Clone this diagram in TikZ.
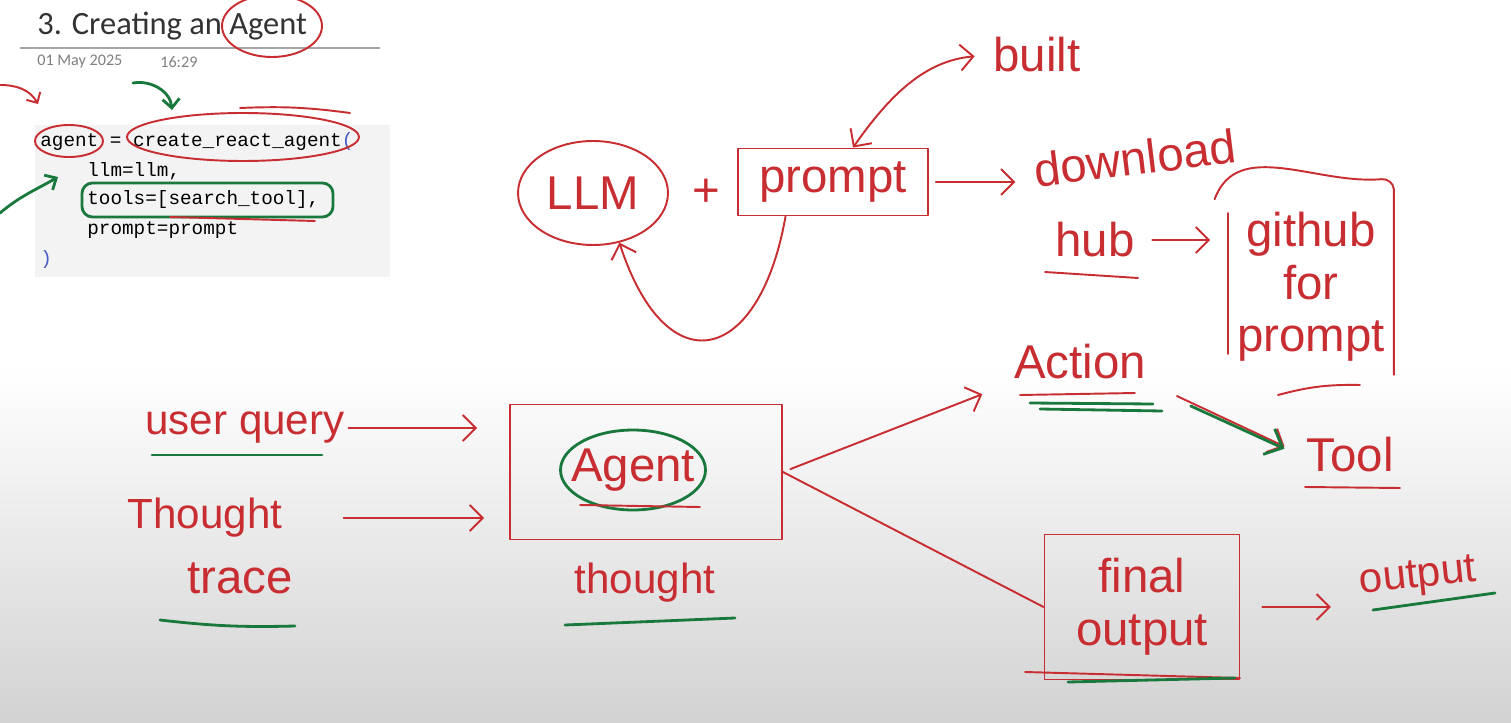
\documentclass[tikz,border=0pt]{standalone}
\usepackage{fontspec}
\setmainfont{Carlito}
\setmonofont{Liberation Mono}
\newfontfamily\handfont{Liberation Sans}
\usepackage{tikz}
\usetikzlibrary{positioning, arrows.meta, shapes.geometric, calc}

\definecolor{inkred}{RGB}{200,45,50}
\definecolor{inkgreen}{RGB}{25,120,60}
\definecolor{codebg}{RGB}{243,243,243}
\definecolor{codeblue}{RGB}{70,90,200}
\definecolor{paper}{RGB}{210,210,210}

\begin{document}
\begin{tikzpicture}[x=0.02cm, y=-0.02cm,
  hand/.style={font=\handfont\fontsize{27}{30}\selectfont, text=inkred, inner sep=2pt},
  handsm/.style={hand, font=\handfont\fontsize{24}{27}\selectfont},
  pen/.style={draw=inkred, line width=1.1pt, line cap=round, line join=round},
  greenpen/.style={draw=inkgreen, line width=1.6pt, line cap=round},
  arrow/.style={pen, -{Straight Barb[length=2.6mm, width=5.2mm]}},
  greenarrow/.style={greenpen, -{Straight Barb[length=3mm, width=5.6mm]}},
  box/.style={pen, rectangle, align=center},
  code/.style={font=\ttfamily\fontsize{11}{13}\selectfont, anchor=west, inner sep=0pt},
  meta/.style={font=\fontsize{9.2}{11}\selectfont, text=black!50, anchor=west, inner sep=0pt},
]
  \useasboundingbox (0,0) rectangle (1511,723);
  \fill[white] (0,0) rectangle (1511,723);
  \shade[top color=white, bottom color=paper] (0,370) rectangle (1511,723);

  % page header
  \node[font=\fontsize{18.5}{21}\selectfont, text=black!80, anchor=west, inner sep=0pt] (title) at (37,26) {3. Creating an Agent};
  \draw[black!35, line width=0.8pt] (20,48) -- (380,48);
  \node[meta] (date) at (37,62) {01 May 2025};
  \node[meta] (time) at (160,62) {16:29};

  % code cell
  \fill[codebg] (35,125) rectangle (390,277);
  \node[code] (line1) at (40,142) {agent = create\_react\_agent{\color{codeblue}(}};
  \node[code] (line2) at (87,171) {llm=llm,};
  \node[code] (line3) at (87,200) {tools=[search\_tool],};
  \node[code] (line4) at (87,230) {prompt=prompt};
  \node[code, text=codeblue] (line5) at (40,260) {)};

  \draw[pen] (272,26) ellipse [x radius=1cm, y radius=0.62cm];
  \draw[pen] (69,141) ellipse [x radius=0.68cm, y radius=0.32cm];
  \draw[pen] (243,137) ellipse [x radius=2.32cm, y radius=0.48cm];
  \draw[pen] (240,108) to[bend left=5] (350,113);
  \draw[greenpen, rounded corners=6pt] (82,183) rectangle (333,217);
  \draw[pen] (170,217) -- (315,221);
  \coordinate (redtail) at (0,85);
  \coordinate (greentail) at (133,83);
  \coordinate (lefttail) at (0,213);
  \draw[pen, -{Straight Barb[length=1.6mm, width=3.2mm]}] (redtail) to[out=0, in=120] (38,104);
  \draw[greenpen, -{Straight Barb[length=1.8mm, width=3.4mm]}] (greentail) to[out=10, in=95] (172,110);
  \draw[greenpen, -{Straight Barb[length=1.8mm, width=3.4mm]}] (lefttail) to[out=40, in=210] (58,177);

  % llm + prompt
  \node[pen, hand, ellipse, minimum width=3cm, minimum height=2.08cm] (llm) at (593,193) {LLM};
  \node[hand, right=0.4cm of llm] (plus) {+};
  \node[box, hand, minimum width=3.8cm, minimum height=1.34cm] (prompt) at (833,182) {prompt};
  \node[hand] (built) at (1037,55) {built};
  \node[hand, rotate=7] (download) at (1135,158) {download};
  \node[hand] (hub) at (1095,240) {hub};
  \node[hand, align=center, minimum width=3.3cm, minimum height=3.5cm] (github) at (1311,287) {github\\for\\prompt};

  \draw[arrow, shorten <=0.14cm, shorten >=0.3cm] (prompt.east) -- (prompt.east -| download.west);
  \draw[arrow, {Straight Barb[length=2.6mm, width=5.2mm]}-{Straight Barb[length=2.6mm, width=5.2mm]}, shorten >=0.3cm]
    ([xshift=0.4cm]prompt.north) to[out=55, in=185] (built.west);
  \draw[arrow] ([xshift=-0.95cm]prompt.south) to[out=-100, in=-72, looseness=2.3] (llm.-62);
  \draw[arrow, shorten <=0.28cm, shorten >=0.36cm] (hub.east) -- (hub.east -| github.west);
  \draw[pen] ([xshift=-0.27cm]github.north west) to[out=70, in=185] ([xshift=-0.25cm, yshift=0.4cm]github.north east)
    to[out=5, in=95] ([yshift=0.2cm]github.north east) -- (github.south east);
  \draw[pen] ([yshift=-0.28cm]github.north west) -- ([yshift=0.42cm]github.south west);
  \draw[pen] (1045,272) -- (1138,278);
  \draw[pen] (1278,395) to[bend left=8] (1360,385);

  % agent
  \node[box, minimum width=5.44cm, minimum height=2.7cm] (agentbox) at (646,472) {};
  \node[hand] (agent) at (633,470) {Agent};
  \draw[greenpen] (agent) ellipse [x radius=1.45cm, y radius=0.8cm];
  \draw[pen] (580,505) -- (700,507);
  \node[handsm] (query) at (245,428) {user query};
  \node[handsm] (thought) at (205,518) {Thought};
  \node[hand] (trace) at (240,578) {trace};
  \node[handsm] (thoughtlbl) at (645,583) {thought};
  \draw[greenpen] (152,455) -- (322,455);
  \draw[greenpen] (160,620) to[bend right=4] (295,626);
  \draw[greenpen] (565,625) -- (735,618);

  \draw[arrow, shorten >=0.64cm] (query.east) -- (query.east -| agentbox.west);
  \draw[arrow, shorten <=1.15cm, shorten >=0.5cm] (thought.east) -- (thought.east -| agentbox.west);

  % action / final output
  \node[hand] (action) at (1080,362) {Action};
  \node[hand] (tool) at (1350,455) {Tool};
  \node[box, hand, minimum width=3.9cm, minimum height=2.9cm] (final) at (1142,607) {final\\output};
  \node[handsm, rotate=6] (output) at (1418,578) {output};

  \draw[arrow, shorten <=0.16cm, shorten >=0.6cm] (agentbox.east) -- (action.south west);
  \draw[pen] (agentbox.east) -- (final.west);
  \draw[arrow, shorten <=0.6cm, shorten >=0.4cm] (action.south east) -- (tool.west);
  \draw[greenarrow, shorten <=0.9cm, shorten >=0.4cm] ([yshift=-0.08cm]action.south east) -- ([yshift=-0.04cm]tool.west);
  \draw[arrow, shorten <=0.44cm, shorten >=0.5cm] (final.east) -- (final.east -| output.west);

  \draw[pen] (1020,395) -- (1135,393);
  \draw[greenpen] (1030,403) -- (1153,404);
  \draw[greenpen] (1040,409) -- (1162,411);
  \draw[pen] (1305,487) -- (1400,488);
  \draw[pen] (1025,672) -- (1240,678);
  \draw[greenpen] (1068,682) -- (1235,678);
  \draw[greenpen] (1373,610) -- (1495,593);
\end{tikzpicture}
\end{document}
